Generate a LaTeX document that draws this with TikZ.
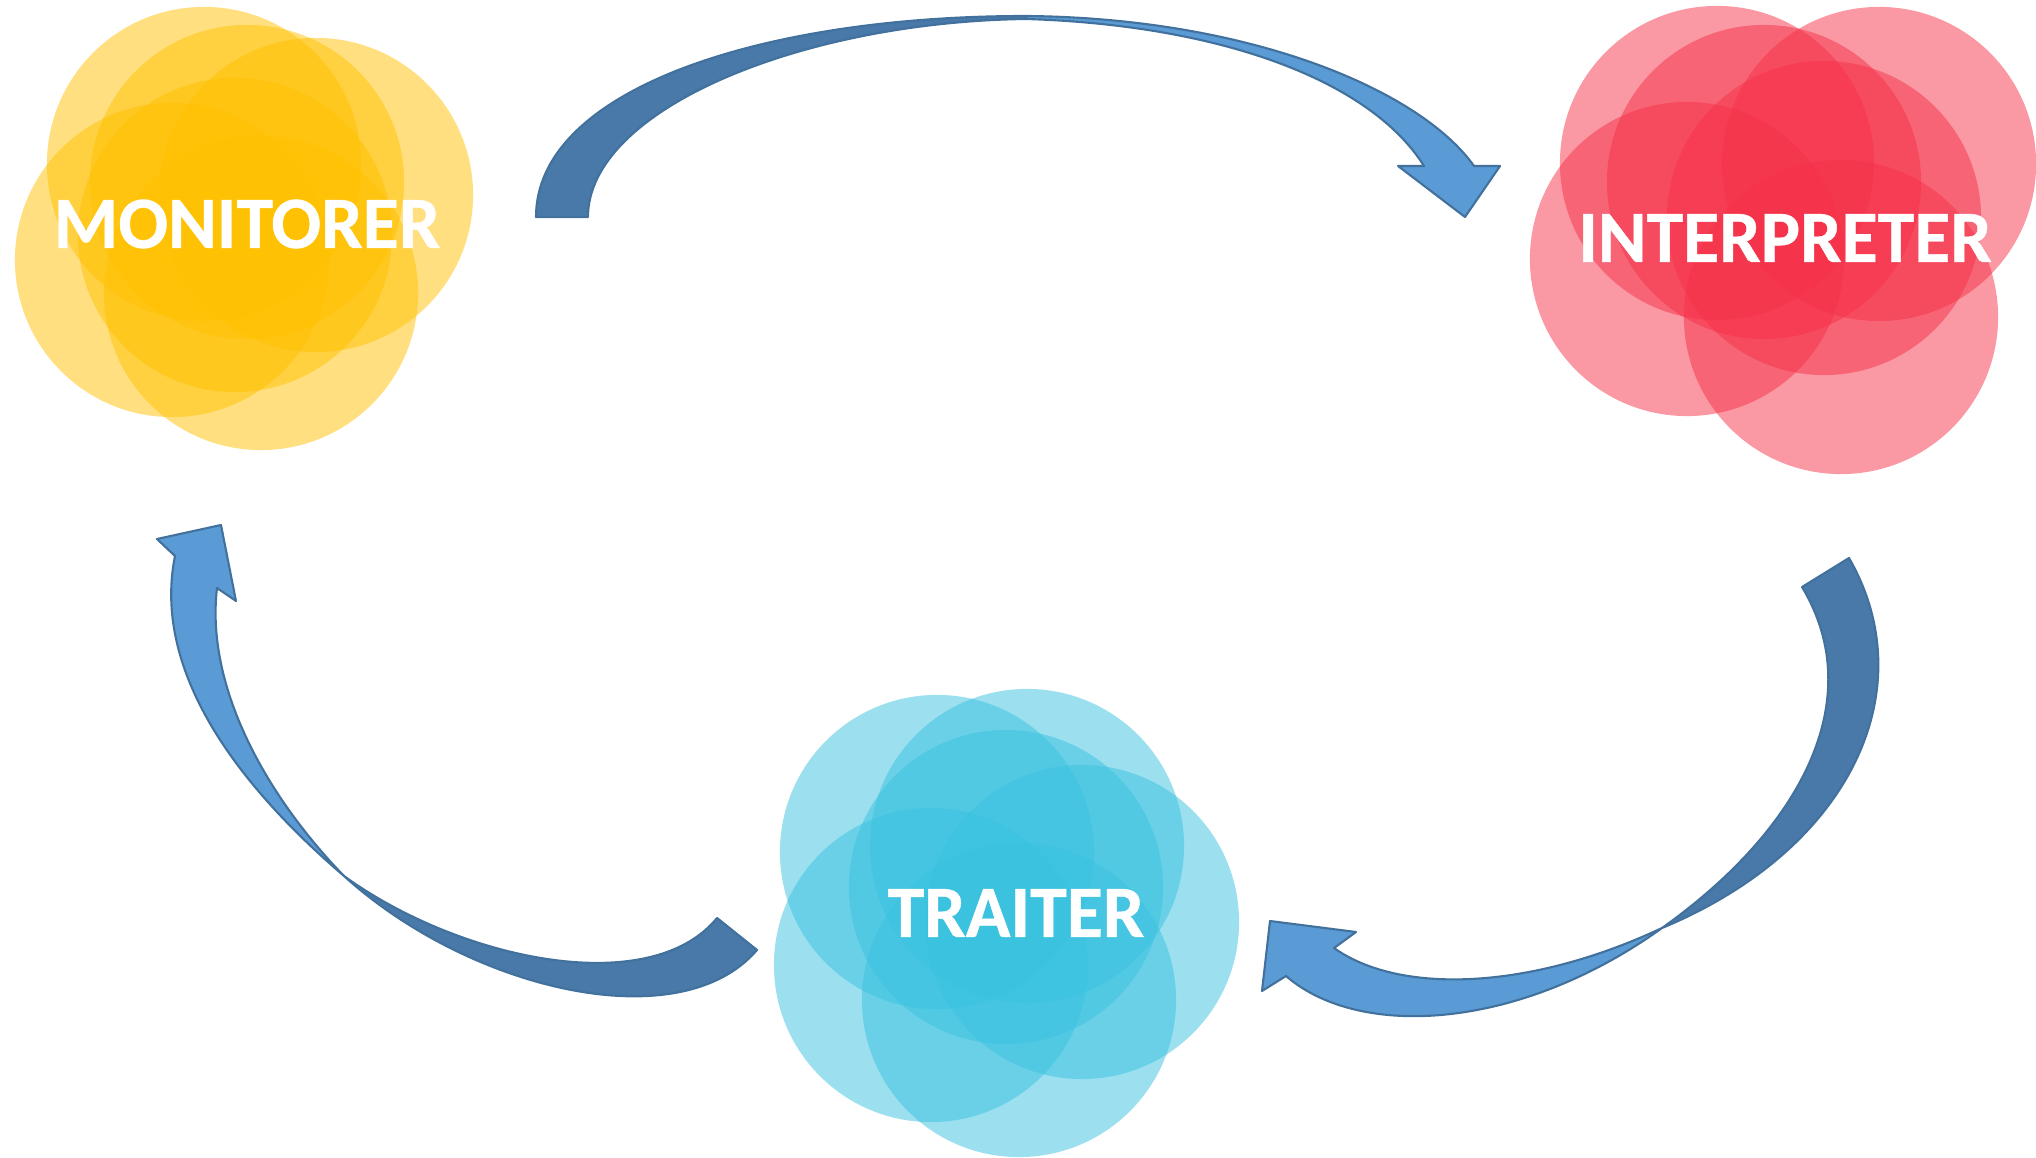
\documentclass[tikz,border=0pt]{standalone}
\usepackage{fontspec}
\setmainfont{Carlito}
\newfontfamily\labelfont{Carlito Bold}[FakeBold=0.6]
\definecolor{monyel}{RGB}{255,192,0}
\definecolor{intred}{RGB}{245,49,73}
\definecolor{traicy}{RGB}{57,193,223}
\definecolor{backblue}{RGB}{72,121,168}
\definecolor{frontblue}{RGB}{91,155,213}
\definecolor{edgeblue}{RGB}{65,113,156}

\begin{document}
\begin{tikzpicture}[x=0.01cm,y=-0.01cm,
  mon/.style={fill=monyel, fill opacity=0.5},
  intp/.style={fill=intred, fill opacity=0.5},
  trai/.style={fill=traicy, fill opacity=0.5},
  label/.style={text=white, font=\fontsize{21}{21}\selectfont\labelfont, inner sep=0pt},
  back/.style={fill=backblue, draw=edgeblue, line width=0.6pt, line join=round},
  front/.style={fill=frontblue, draw=edgeblue, line width=0.6pt, line join=round}]

\useasboundingbox (0,0) rectangle (2036,1158);

\fill[mon] (204,164) circle (1.57cm);
\fill[mon] (247,182) circle (1.57cm);
\fill[mon] (316,195) circle (1.57cm);
\fill[mon] (235,235) circle (1.57cm);
\fill[mon] (172,260) circle (1.57cm);
\fill[mon] (261,293) circle (1.57cm);

\fill[intp] (1717,163) circle (1.57cm);
\fill[intp] (1879,164) circle (1.57cm);
\fill[intp] (1764,182) circle (1.57cm);
\fill[intp] (1824,218) circle (1.57cm);
\fill[intp] (1687,259) circle (1.57cm);
\fill[intp] (1841,317) circle (1.57cm);

\fill[trai] (937,852) circle (1.57cm);
\fill[trai] (1027,846) circle (1.57cm);
\fill[trai] (1006,887) circle (1.57cm);
\fill[trai] (1082,922) circle (1.57cm);
\fill[trai] (931,965) circle (1.57cm);
\fill[trai] (1019,1000) circle (1.57cm);

\node[label] (monitorer) at (247,224) {MONITORER};
\node[label] (interpreter) at (1785,238) {INTERPRETER};
\node[label] (traiter) at (1016,913) {TRAITER};

% monitorer -> interpreter
\draw[back] (536,217) .. controls (536,90) and (760,16) .. (1026,16)
  -- (1026,19) .. controls (800,22) and (588,110) .. (588,217) -- cycle;
\draw[front] (1026,16) .. controls (1250,18) and (1420,90) .. (1474,166)
  -- (1500,166) -- (1465,217) -- (1398,166) -- (1424,166)
  .. controls (1370,80) and (1220,25) .. (1026,19) -- cycle;

% interpreter -> traiter
\draw[back] (1849,558) .. controls (1925,690) and (1850,850) .. (1662,928)
  .. controls (1800,830) and (1870,700) .. (1802,587) -- cycle;
\draw[front] (1662,928) .. controls (1520,1030) and (1360,1040) .. (1286,976)
  -- (1262,991) -- (1270,921) -- (1356,932) -- (1334,948)
  .. controls (1400,995) and (1530,990) .. (1662,928) -- cycle;

% traiter -> monitorer
\draw[back] (757,950) .. controls (680,1040) and (470,990) .. (344,876)
  .. controls (460,960) and (650,1000) .. (717,918) -- cycle;
\draw[front] (344,876) .. controls (195,748) and (158,640) .. (175,556)
  -- (157,539) -- (221,525) -- (236,601) -- (217,588)
  .. controls (205,690) and (270,800) .. (344,876) -- cycle;
\end{tikzpicture}
\end{document}
